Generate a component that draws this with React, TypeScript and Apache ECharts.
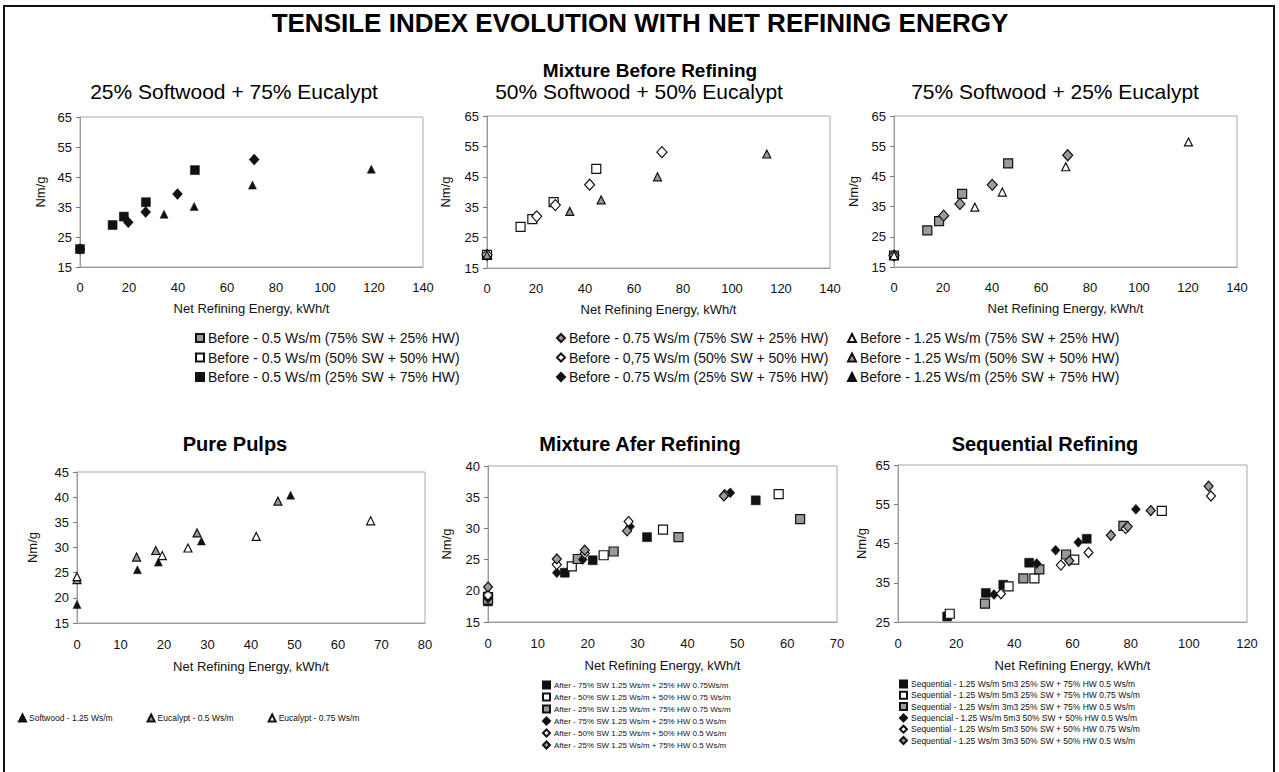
import React, { useEffect, useRef } from "react";
import * as echarts from "echarts";

const FONT = "'Liberation Sans', Arial, Helvetica, sans-serif";
const NARROW = "'Liberation Sans Narrow', 'Liberation Sans', Arial, sans-serif";

// ---------- Mixture before refining : 25% SW + 75% Eucalypt ----------
const b25_05: number[][] = [[0, 21], [13.3, 29.0], [17.9, 31.8], [26.9, 36.6], [46.9, 47.3]];
const b25_075: number[][] = [[0, 21], [19.7, 29.9], [26.8, 33.3], [39.8, 39.3], [71.1, 50.8]];
const b25_125: number[][] = [[0, 21], [34.3, 32.6], [46.6, 35.2], [70.4, 42.3], [118.9, 47.6]];
// ---------- 50% SW + 50% Eucalypt ----------
const b50_05: number[][] = [[0, 19.3], [13.7, 28.5], [18.5, 31.1], [27.2, 36.7], [44.6, 47.6]];
const b50_075: number[][] = [[0, 19.3], [20.3, 32.0], [27.9, 35.7], [41.9, 42.4], [71.4, 53.1]];
const b50_125: number[][] = [[0, 19.3], [33.8, 33.6], [46.6, 37.4], [69.6, 45.0], [114.2, 52.5]];
// ---------- 75% SW + 25% Eucalypt ----------
const b75_05: number[][] = [[0, 18.8], [13.6, 27.1], [18.4, 30.2], [27.8, 39.2], [46.6, 49.3]];
const b75_075: number[][] = [[0, 18.8], [20.3, 32.0], [26.9, 35.9], [40.1, 42.2], [70.9, 52.0]];
const b75_125: number[][] = [[0, 18.8], [33.0, 34.8], [44.2, 39.8], [70.1, 48.2], [120.2, 56.4]];
// ---------- Pure pulps ----------
const softwood125: number[][] = [[0, 18.7], [13.9, 25.6], [18.7, 27.1], [28.6, 31.3], [49.1, 40.4]];
const eucalypt05: number[][] = [[0, 23.6], [13.7, 28.1], [18.1, 29.4], [27.6, 32.9], [46.2, 39.2]];
const eucalypt075: number[][] = [[0, 24.2], [19.6, 28.4], [25.5, 29.9], [41.2, 32.2], [67.5, 35.3]];
// ---------- Mixture after refining ----------
const a75_075: number[][] = [[0, 18.3], [15.4, 22.9], [21.0, 24.9], [31.9, 28.6], [53.7, 34.5]];
const a50_075: number[][] = [[0, 19.0], [16.8, 23.9], [23.2, 25.7], [35.1, 29.8], [58.3, 35.5]];
const a25_075: number[][] = [[0, 18.6], [18.0, 25.1], [25.2, 26.3], [38.2, 28.6], [62.6, 31.5]];
const a75_05: number[][] = [[0, 18.8], [13.8, 22.9], [19.0, 25.0], [28.5, 30.3], [48.6, 35.7]];
const a50_05: number[][] = [[0, 19.3], [13.8, 24.2], [19.4, 26.0], [28.2, 31.1], [47.5, 35.4]];
const a25_05: number[][] = [[0, 20.6], [13.8, 25.1], [19.4, 26.5], [27.9, 29.6], [47.3, 35.2]];
// ---------- Sequential refining ----------
const s5_25_05: number[][] = [[16.9, 26.4], [30.2, 32.4], [36.2, 34.5], [45.1, 40.1], [64.9, 46.2]];
const s5_25_075: number[][] = [[17.8, 27.1], [38.0, 34.1], [46.9, 36.1], [60.6, 40.9], [90.7, 53.3]];
const s3_25_05: number[][] = [[29.9, 29.7], [43.1, 36.1], [48.6, 38.4], [57.8, 42.2], [77.5, 49.5]];
const s5_50_05: number[][] = [[33.0, 32.0], [47.7, 39.9], [54.2, 43.3], [62.0, 45.3], [81.8, 53.7]];
const s5_50_075: number[][] = [[35.4, 32.2], [56.0, 39.5], [65.5, 42.7], [78.3, 48.8], [107.6, 57.1]];
const s3_50_05: number[][] = [[58.9, 40.6], [73.2, 47.1], [79.0, 49.3], [86.9, 53.4], [106.8, 59.6]];

// axis ranges [min, max, interval]
const xRanges = [[0, 140, 20], [0, 140, 20], [0, 140, 20], [0, 80, 10], [0, 70, 10], [0, 120, 20]];
const yRanges = [[15, 65, 10], [15, 65, 10], [15, 65, 10], [15, 45, 5], [15, 40, 5], [25, 65, 10]];

const BLACK = "#111111";
const GRAY = "#9a9a9a";
const WHITE = "#ffffff";

type Spec = { name: string; data: number[][]; g: number; sym: string; fill: string; size: number };

const specs: Spec[] = [
  { name: "Before - 0.5 Ws/m (25% SW + 75% HW)", data: b25_05, g: 0, sym: "rect", fill: BLACK, size: 9 },
  { name: "Before - 0.75 Ws/m (25% SW + 75% HW)", data: b25_075, g: 0, sym: "diamond", fill: BLACK, size: 11 },
  { name: "Before - 1.25 Ws/m (25% SW + 75% HW)", data: b25_125, g: 0, sym: "triangle", fill: BLACK, size: 8 },
  { name: "Before - 0.5 Ws/m (50% SW + 50% HW)", data: b50_05, g: 1, sym: "rect", fill: WHITE, size: 9 },
  { name: "Before - 0,75 Ws/m (50% SW + 50% HW)", data: b50_075, g: 1, sym: "diamond", fill: WHITE, size: 11 },
  { name: "Before - 1.25 Ws/m (50% SW + 50% HW)", data: b50_125, g: 1, sym: "triangle", fill: GRAY, size: 8 },
  { name: "Before - 0.5 Ws/m (75% SW + 25% HW)", data: b75_05, g: 2, sym: "rect", fill: GRAY, size: 9 },
  { name: "Before - 0.75 Ws/m (75% SW + 25% HW)", data: b75_075, g: 2, sym: "diamond", fill: GRAY, size: 11 },
  { name: "Before - 1.25 Ws/m (75% SW + 25% HW)", data: b75_125, g: 2, sym: "triangle", fill: WHITE, size: 8 },
  { name: "Softwood - 1.25 Ws/m", data: softwood125, g: 3, sym: "triangle", fill: BLACK, size: 8 },
  { name: "Eucalypt - 0.5 Ws/m", data: eucalypt05, g: 3, sym: "triangle", fill: GRAY, size: 8 },
  { name: "Eucalypt - 0.75 Ws/m", data: eucalypt075, g: 3, sym: "triangle", fill: WHITE, size: 8 },
  { name: "After - 75% SW 1.25 Ws/m + 25% HW 0.75Ws/m", data: a75_075, g: 4, sym: "rect", fill: BLACK, size: 9 },
  { name: "After - 50% SW 1.25 Ws/m + 50% HW 0.75 Ws/m", data: a50_075, g: 4, sym: "rect", fill: WHITE, size: 9 },
  { name: "After - 25% SW 1.25 Ws/m + 75% HW 0.75 Ws/m", data: a25_075, g: 4, sym: "rect", fill: GRAY, size: 9 },
  { name: "After - 75% SW 1.25 Ws/m + 25% HW 0.5 Ws/m", data: a75_05, g: 4, sym: "diamond", fill: BLACK, size: 10 },
  { name: "After - 50% SW 1.25 Ws/m + 50% HW 0.5 Ws/m", data: a50_05, g: 4, sym: "diamond", fill: WHITE, size: 10 },
  { name: "After - 25% SW 1.25 Ws/m + 75% HW 0.5 Ws/m", data: a25_05, g: 4, sym: "diamond", fill: GRAY, size: 10 },
  { name: "Sequential - 1.25 Ws/m 5m3 25% SW + 75% HW 0.5 Ws/m", data: s5_25_05, g: 5, sym: "rect", fill: BLACK, size: 9 },
  { name: "Sequential - 1.25 Ws/m 5m3 25% SW + 75% HW 0.75 Ws/m", data: s5_25_075, g: 5, sym: "rect", fill: WHITE, size: 9 },
  { name: "Sequential - 1.25 Ws/m 3m3 25% SW + 75% HW 0.5 Ws/m", data: s3_25_05, g: 5, sym: "rect", fill: GRAY, size: 9 },
  { name: "Sequencial - 1.25 Ws/m 5m3 50% SW + 50% HW 0.5 Ws/m", data: s5_50_05, g: 5, sym: "diamond", fill: BLACK, size: 10 },
  { name: "Sequential - 1.25 Ws/m 5m3 50% SW + 50% HW 0.75 Ws/m", data: s5_50_075, g: 5, sym: "diamond", fill: WHITE, size: 10 },
  { name: "Sequential - 1.25 Ws/m 3m3 50% SW + 50% HW 0.5 Ws/m", data: s3_50_05, g: 5, sym: "diamond", fill: GRAY, size: 10 },
];

const legendCols: string[][] = [
  ["Before - 0.5 Ws/m (75% SW + 25% HW)", "Before - 0.5 Ws/m (50% SW + 50% HW)", "Before - 0.5 Ws/m (25% SW + 75% HW)"],
  ["Before - 0.75 Ws/m (75% SW + 25% HW)", "Before - 0,75 Ws/m (50% SW + 50% HW)", "Before - 0.75 Ws/m (25% SW + 75% HW)"],
  ["Before - 1.25 Ws/m (75% SW + 25% HW)", "Before - 1.25 Ws/m (50% SW + 50% HW)", "Before - 1.25 Ws/m (25% SW + 75% HW)"],
];
const pureLegend = ["Softwood - 1.25 Ws/m", "Eucalypt - 0.5 Ws/m", "Eucalypt - 0.75 Ws/m"];
const afterLegend = specs.filter((s) => s.g === 4).map((s) => s.name);
const seqLegend = specs.filter((s) => s.g === 5).map((s) => s.name);

const grids = [
  { left: 80, top: 117, width: 343, height: 150 },
  { left: 487, top: 116, width: 343, height: 152 },
  { left: 894, top: 116, width: 343, height: 151 },
  { left: 77, top: 472, width: 348, height: 151 },
  { left: 488, top: 466, width: 349, height: 156 },
  { left: 898, top: 465, width: 349, height: 157 },
];
const yNameGaps = [33, 35, 34, 38, 35, 30];

export default function App() {
  const ref = useRef<HTMLDivElement>(null);
  useEffect(() => {
    document.body.style.margin = "0";
    if (!ref.current) return;
    const chart = echarts.init(ref.current, null, { renderer: "svg" });
    const isBottom = (i: number) => i >= 3;
    const option: any = {
      animation: false,
      backgroundColor: "#ffffff",
      textStyle: { fontFamily: FONT },
      title: [
        { text: "TENSILE INDEX EVOLUTION WITH NET REFINING ENERGY", left: 640, top: 10, textAlign: "center", padding: 0,
          textStyle: { fontFamily: FONT, fontSize: 26, fontWeight: "bold", color: "#000" } },
        { text: "Mixture Before Refining", left: 650, top: 61, textAlign: "center", padding: 0,
          textStyle: { fontFamily: FONT, fontSize: 19, fontWeight: "bold", color: "#000" } },
        { text: "25% Softwood + 75% Eucalypt", left: 234, top: 81, textAlign: "center", padding: 0,
          textStyle: { fontFamily: FONT, fontSize: 21, fontWeight: "normal", color: "#000" } },
        { text: "50% Softwood + 50% Eucalypt", left: 639, top: 81, textAlign: "center", padding: 0,
          textStyle: { fontFamily: FONT, fontSize: 21, fontWeight: "normal", color: "#000" } },
        { text: "75% Softwood + 25% Eucalypt", left: 1055, top: 81, textAlign: "center", padding: 0,
          textStyle: { fontFamily: FONT, fontSize: 21, fontWeight: "normal", color: "#000" } },
        { text: "Pure Pulps", left: 235, top: 434, textAlign: "center", padding: 0,
          textStyle: { fontFamily: FONT, fontSize: 20, fontWeight: "bold", color: "#000" } },
        { text: "Mixture Afer Refining", left: 640, top: 434, textAlign: "center", padding: 0,
          textStyle: { fontFamily: FONT, fontSize: 20, fontWeight: "bold", color: "#000" } },
        { text: "Sequential Refining", left: 1045, top: 434, textAlign: "center", padding: 0,
          textStyle: { fontFamily: FONT, fontSize: 20, fontWeight: "bold", color: "#000" } },
      ],
      grid: grids.map((g) => ({ ...g, show: true, borderColor: "#a8a8a8", borderWidth: 1, backgroundColor: "transparent" })),
      xAxis: xRanges.map((r, i) => ({
        type: "value", gridIndex: i, min: r[0], max: r[1], interval: r[2],
        name: "Net Refining Energy, kWh/t", nameLocation: "middle", nameGap: isBottom(i) ? 37 : 35,
        nameTextStyle: { fontFamily: FONT, fontSize: 13, color: "#111" },
        axisLine: { show: true, lineStyle: { color: "#999", width: 1 } },
        axisTick: { show: false },
        splitLine: { show: false },
        axisLabel: { fontFamily: FONT, fontSize: 13, color: "#111", margin: isBottom(i) ? 15 : 14 },
      })),
      yAxis: yRanges.map((r, i) => ({
        type: "value", gridIndex: i, min: r[0], max: r[1], interval: r[2],
        name: "Nm/g", nameLocation: "middle", nameRotate: 90, nameGap: yNameGaps[i],
        nameTextStyle: { fontFamily: FONT, fontSize: 13, color: "#111" },
        axisLine: { show: true, lineStyle: { color: "#999", width: 1 } },
        axisTick: { show: true, length: 4, lineStyle: { color: "#777" } },
        splitLine: { show: false },
        axisLabel: { fontFamily: FONT, fontSize: 13, color: "#111", margin: 8 },
      })),
      legend: [
        ...legendCols.map((col, ci) => ({
          data: col, orient: "vertical", left: [195, 556, 847][ci], top: 331,
          itemWidth: 8, itemHeight: 8, itemGap: 5.5, selectedMode: false, padding: 0,
          textStyle: { fontFamily: FONT, fontSize: 14, color: "#111", lineHeight: 14, padding: [0, 0, 0, -1] },
        })),
        { data: pureLegend, orient: "horizontal", left: 18, top: 713, itemWidth: 7, itemHeight: 7, itemGap: 34,
          selectedMode: false, padding: 0,
          textStyle: { fontFamily: NARROW, fontSize: 8.5, color: "#111", lineHeight: 10, padding: [0, 0, 0, -2] } },
        { data: afterLegend, orient: "vertical", left: 542, top: 680, itemWidth: 7, itemHeight: 7, itemGap: 2,
          selectedMode: false, padding: 0,
          textStyle: { fontFamily: NARROW, fontSize: 8, color: "#111", lineHeight: 10, padding: [0, 0, 0, -1] } },
        { data: seqLegend, orient: "vertical", left: 899, top: 679, itemWidth: 7, itemHeight: 7, itemGap: 1.3,
          selectedMode: false, padding: 0,
          textStyle: { fontFamily: NARROW, fontSize: 8.5, color: "#111", lineHeight: 10, padding: [0, 0, 0, -1] } },
      ],
      graphic: [
        { type: "rect", silent: true, shape: { x: 4, y: 6, width: 1270, height: 800 },
          style: { fill: "none", stroke: "#111", lineWidth: 2 } },
      ],
      series: specs.map((s) => ({
        type: "scatter", name: s.name, data: s.data, xAxisIndex: s.g, yAxisIndex: s.g,
        symbol: s.sym, symbolSize: s.sym === "diamond" ? [s.size - 1, s.size] : s.size,
        itemStyle: { color: s.fill, borderColor: "#111", borderWidth: s.fill === BLACK ? 0.5 : 1.2, opacity: 1 },
        emphasis: { disabled: true },
      })),
    };
    chart.setOption(option);
    return () => chart.dispose();
  }, []);
  return <div ref={ref} style={{ width: 1279, height: 772 }} />;
}
